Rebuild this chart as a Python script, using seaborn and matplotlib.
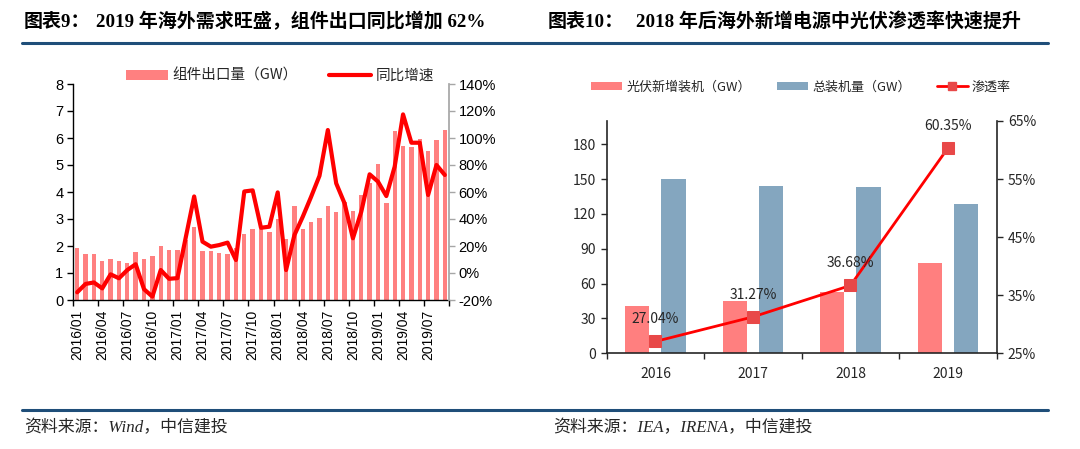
import numpy as np
import pandas as pd
import matplotlib
matplotlib.use("Agg")
import matplotlib.pyplot as plt
import seaborn as sns
from matplotlib.lines import Line2D
from matplotlib.patches import Patch
from matplotlib.ticker import FuncFormatter

# ---------------- data ----------------
months = [f"{y}/{m:02d}" for y in range(2016, 2020) for m in range(1, 13)][:45]
export_gw = [1.91, 1.72, 1.72, 1.46, 1.51, 1.44, 1.37, 1.79, 1.51, 1.63,
             2.00, 1.85, 1.86, 2.22, 2.72, 1.81, 1.81, 1.74, 1.69, 1.94,
             2.44, 2.63, 2.63, 2.51, 3.00, 2.26, 3.48, 2.62, 2.88, 3.02,
             3.48, 3.27, 3.64, 3.30, 3.89, 4.32, 5.03, 3.60, 6.27, 5.71,
             5.66, 5.98, 5.53, 5.91, 6.30]
yoy_pct = [-14.3, -8.1, -7.0, -11.4, -1.0, -3.9, 2.2, 6.5, -12.0, -17.5,
           2.2, -4.3, -3.8, 26.5, 56.7, 23.2, 19.5, 20.7, 22.5, 9.6,
           60.4, 61.2, 33.5, 34.3, 59.7, 2.2, 28.1, 41.7, 56.5, 72.0,
           105.9, 66.4, 51.6, 25.7, 45.4, 73.1, 67.7, 57.0, 78.8, 117.5,
           96.5, 96.5, 57.8, 80.0, 72.6]

years = ["2016", "2017", "2018", "2019"]
new_pv_gw = [40.7, 45.0, 52.4, 77.4]
total_gw = [150.4, 144.1, 143.2, 128.3]
penetration = [27.04, 31.27, 36.68, 60.35]

left_legend = ["组件出口量（GW）", "同比增速"]
right_legend = ["光伏新增装机（GW）", "总装机量（GW）", "渗透率"]
title1a, title1b = "图表9：", "2019 年海外需求旺盛，组件出口同比增加 62%"
title2a, title2b = "图表10：", "2018 年后海外新增电源中光伏渗透率快速提升"
src1 = "资料来源：Wind，中信建投"
src2 = "资料来源：IEA，IRENA，中信建投"

# ---------------- style ----------------
sns.set_theme(style="white")
plt.rcParams["font.family"] = ["Liberation Sans", "Noto Sans CJK SC", "DejaVu Sans"]
plt.rcParams["axes.unicode_minus"] = False

RED_BAR = "#FF8080"
RED_LINE = "#FF0000"
BLUE_BAR = "#84A6BF"
NAVY = "#1F4E79"
CJK = ["Noto Sans CJK SC", "DejaVu Sans"]
SERIF = ["Liberation Serif", "Noto Sans CJK SC", "DejaVu Sans"]

W, H = 1080, 449
fig = plt.figure(figsize=(W / 100, H / 100), dpi=100)

def fx(px):
    return px / W

def fy(py):
    return 1 - py / H

# ---------------- left chart ----------------
axL = fig.add_axes([fx(73), fy(300), fx(449) - fx(73), fy(84) - fy(300)])
sns.barplot(x=months, y=export_gw, color=RED_BAR, width=0.52, ax=axL,
            saturation=1, edgecolor="none")
axL.set_xlim(-0.5, 44.5)
axL.set_ylim(0, 8)
axL.set_yticks(range(0, 9))
axL.set_xticks(np.arange(0, 45, 3))
axL.set_xticklabels([months[i] for i in range(0, 45, 3)], rotation=90)
axL.set_xticks(list(np.arange(-0.5, 45, 3)), minor=True)
axL.tick_params(axis="x", which="major", length=0, pad=7, labelsize=10, colors="#000000")
axL.tick_params(axis="x", which="minor", length=4, width=1, color="#000000", direction="out", bottom=True)
axL.tick_params(axis="y", length=4, width=1, color="#000000", direction="out", left=True,
                labelsize=10.5, labelcolor="#000000", pad=3)
for s in ["top", "right"]:
    axL.spines[s].set_visible(False)
for s in ["left", "bottom"]:
    axL.spines[s].set_color("#000000")
    axL.spines[s].set_linewidth(1)
axL.set_xlabel("")
axL.set_ylabel("")

axL2 = axL.twinx()
sns.lineplot(x=np.arange(45), y=yoy_pct, color=RED_LINE, linewidth=3, ax=axL2)
axL2.set_ylim(-20, 140)
axL2.set_yticks(range(-20, 141, 20))
axL2.yaxis.set_major_formatter(FuncFormatter(lambda v, p: f"{v:.0f}%"))
axL2.tick_params(axis="y", length=4, width=1, color="#A6A6A6", direction="out", right=True,
                 labelsize=10.5, labelcolor="#000000", pad=3)
for s in ["top", "left", "bottom"]:
    axL2.spines[s].set_visible(False)
axL2.spines["right"].set_color("#A6A6A6")
axL2.set_xlim(-0.5, 44.5)
axL2.set_ylabel("")

hL = [Patch(facecolor=RED_BAR, edgecolor="none"),
      Line2D([0], [0], color=RED_LINE, linewidth=3)]
fig.legend(hL, left_legend, loc="center left", bbox_to_anchor=(fx(126), fy(76)),
           ncol=2, frameon=False, handlelength=2.9, handleheight=0.6,
           handletextpad=0.3, columnspacing=2.1, borderpad=0, borderaxespad=0,
           prop={"family": CJK, "size": 10.5})

# ---------------- right chart ----------------
axR = fig.add_axes([fx(606.7), fy(353.3), fx(996.7) - fx(606.7), fy(121) - fy(353.3)])
df = pd.DataFrame({
    "year": years * 2,
    "series": [right_legend[0]] * 4 + [right_legend[1]] * 4,
    "value": new_pv_gw + total_gw,
})
sns.barplot(data=df, x="year", y="value", hue="series",
            hue_order=right_legend[:2], palette=["#FF7F7F", BLUE_BAR],
            width=0.74, gap=0.33, saturation=1, edgecolor="none",
            ax=axR, legend=False)
axR.set_xlim(-0.5, 3.5)
axR.set_ylim(0, 200)
axR.set_yticks(range(0, 181, 30))
axR.set_xticks(range(4))
axR.set_xticks([-0.5, 0.5, 1.5, 2.5, 3.5], minor=True)
axR.tick_params(axis="x", which="major", length=0, pad=10, labelsize=10, labelcolor="#262626")
axR.tick_params(axis="x", which="minor", length=4, width=1, color="#262626", direction="out", bottom=True)
axR.tick_params(axis="y", length=4, width=1, color="#262626", direction="out", left=True,
                labelsize=10, labelcolor="#262626", pad=4)
for lab in axR.get_xticklabels() + axR.get_yticklabels():
    lab.set_family(CJK)
for s in ["top", "right"]:
    axR.spines[s].set_visible(False)
for s in ["left", "bottom"]:
    axR.spines[s].set_color("#262626")
    axR.spines[s].set_linewidth(1.2)
axR.set_xlabel("")
axR.set_ylabel("")

axR2 = axR.twinx()
sns.lineplot(x=np.arange(4), y=penetration, color=RED_LINE, linewidth=2, ax=axR2,
             marker="s", markersize=8, markerfacecolor="#E84848", markeredgecolor="#E84848")
axR2.set_ylim(25, 65)
axR2.set_yticks(range(25, 66, 10))
axR2.yaxis.set_major_formatter(FuncFormatter(lambda v, p: f"{v:.0f}%"))
axR2.tick_params(axis="y", length=4, width=1, color="#262626", direction="out", right=True,
                 labelsize=10, labelcolor="#262626", pad=4)
for lab in axR2.get_yticklabels():
    lab.set_family(CJK)
for s in ["top", "left", "bottom"]:
    axR2.spines[s].set_visible(False)
axR2.spines["right"].set_color("#262626")
axR2.spines["right"].set_linewidth(1.2)
axR2.set_xlim(-0.5, 3.5)
axR2.set_ylabel("")
for i, v in enumerate(penetration):
    axR2.annotate(f"{v:.2f}%", (i, v), xytext=(0, 16), textcoords="offset points",
                  ha="center", va="center", fontsize=10, color="#262626", family=CJK)

hR = [Patch(facecolor="#FF7F7F", edgecolor="none"),
      Patch(facecolor=BLUE_BAR, edgecolor="none"),
      Line2D([0], [0], color=RED_LINE, linewidth=2, marker="s", markersize=6,
             markerfacecolor="#E84848", markeredgecolor="#E84848")]
fig.legend(hR, right_legend, loc="center left", bbox_to_anchor=(fx(591), fy(87)),
           ncol=3, frameon=False, handlelength=2.4, handleheight=0.6,
           handletextpad=0.3, columnspacing=2.0, borderpad=0, borderaxespad=0,
           prop={"family": CJK, "size": 9.4})

# ---------------- titles, rules, sources ----------------
for x, s in [(24, title1a), (96, title1b), (548, title2a), (636, title2b)]:
    fig.text(fx(x), fy(22), s, ha="left", va="center", fontsize=13.7,
             fontweight="bold", family=SERIF, color="#000000")

fig.add_artist(Line2D([fx(22), fx(1048)], [fy(43), fy(43)], color=NAVY, linewidth=2.2))
fig.add_artist(Line2D([fx(22), fx(1048)], [fy(410), fy(410)], color=NAVY, linewidth=2.2))

fig.text(fx(24), fy(428), src1, ha="left", va="center", fontsize=12.2,
         style="italic", family=SERIF, color="#262626")
fig.text(fx(553), fy(428), src2, ha="left", va="center", fontsize=12.2,
         style="italic", family=SERIF, color="#262626")

fig.savefig("out.png", dpi=100)
